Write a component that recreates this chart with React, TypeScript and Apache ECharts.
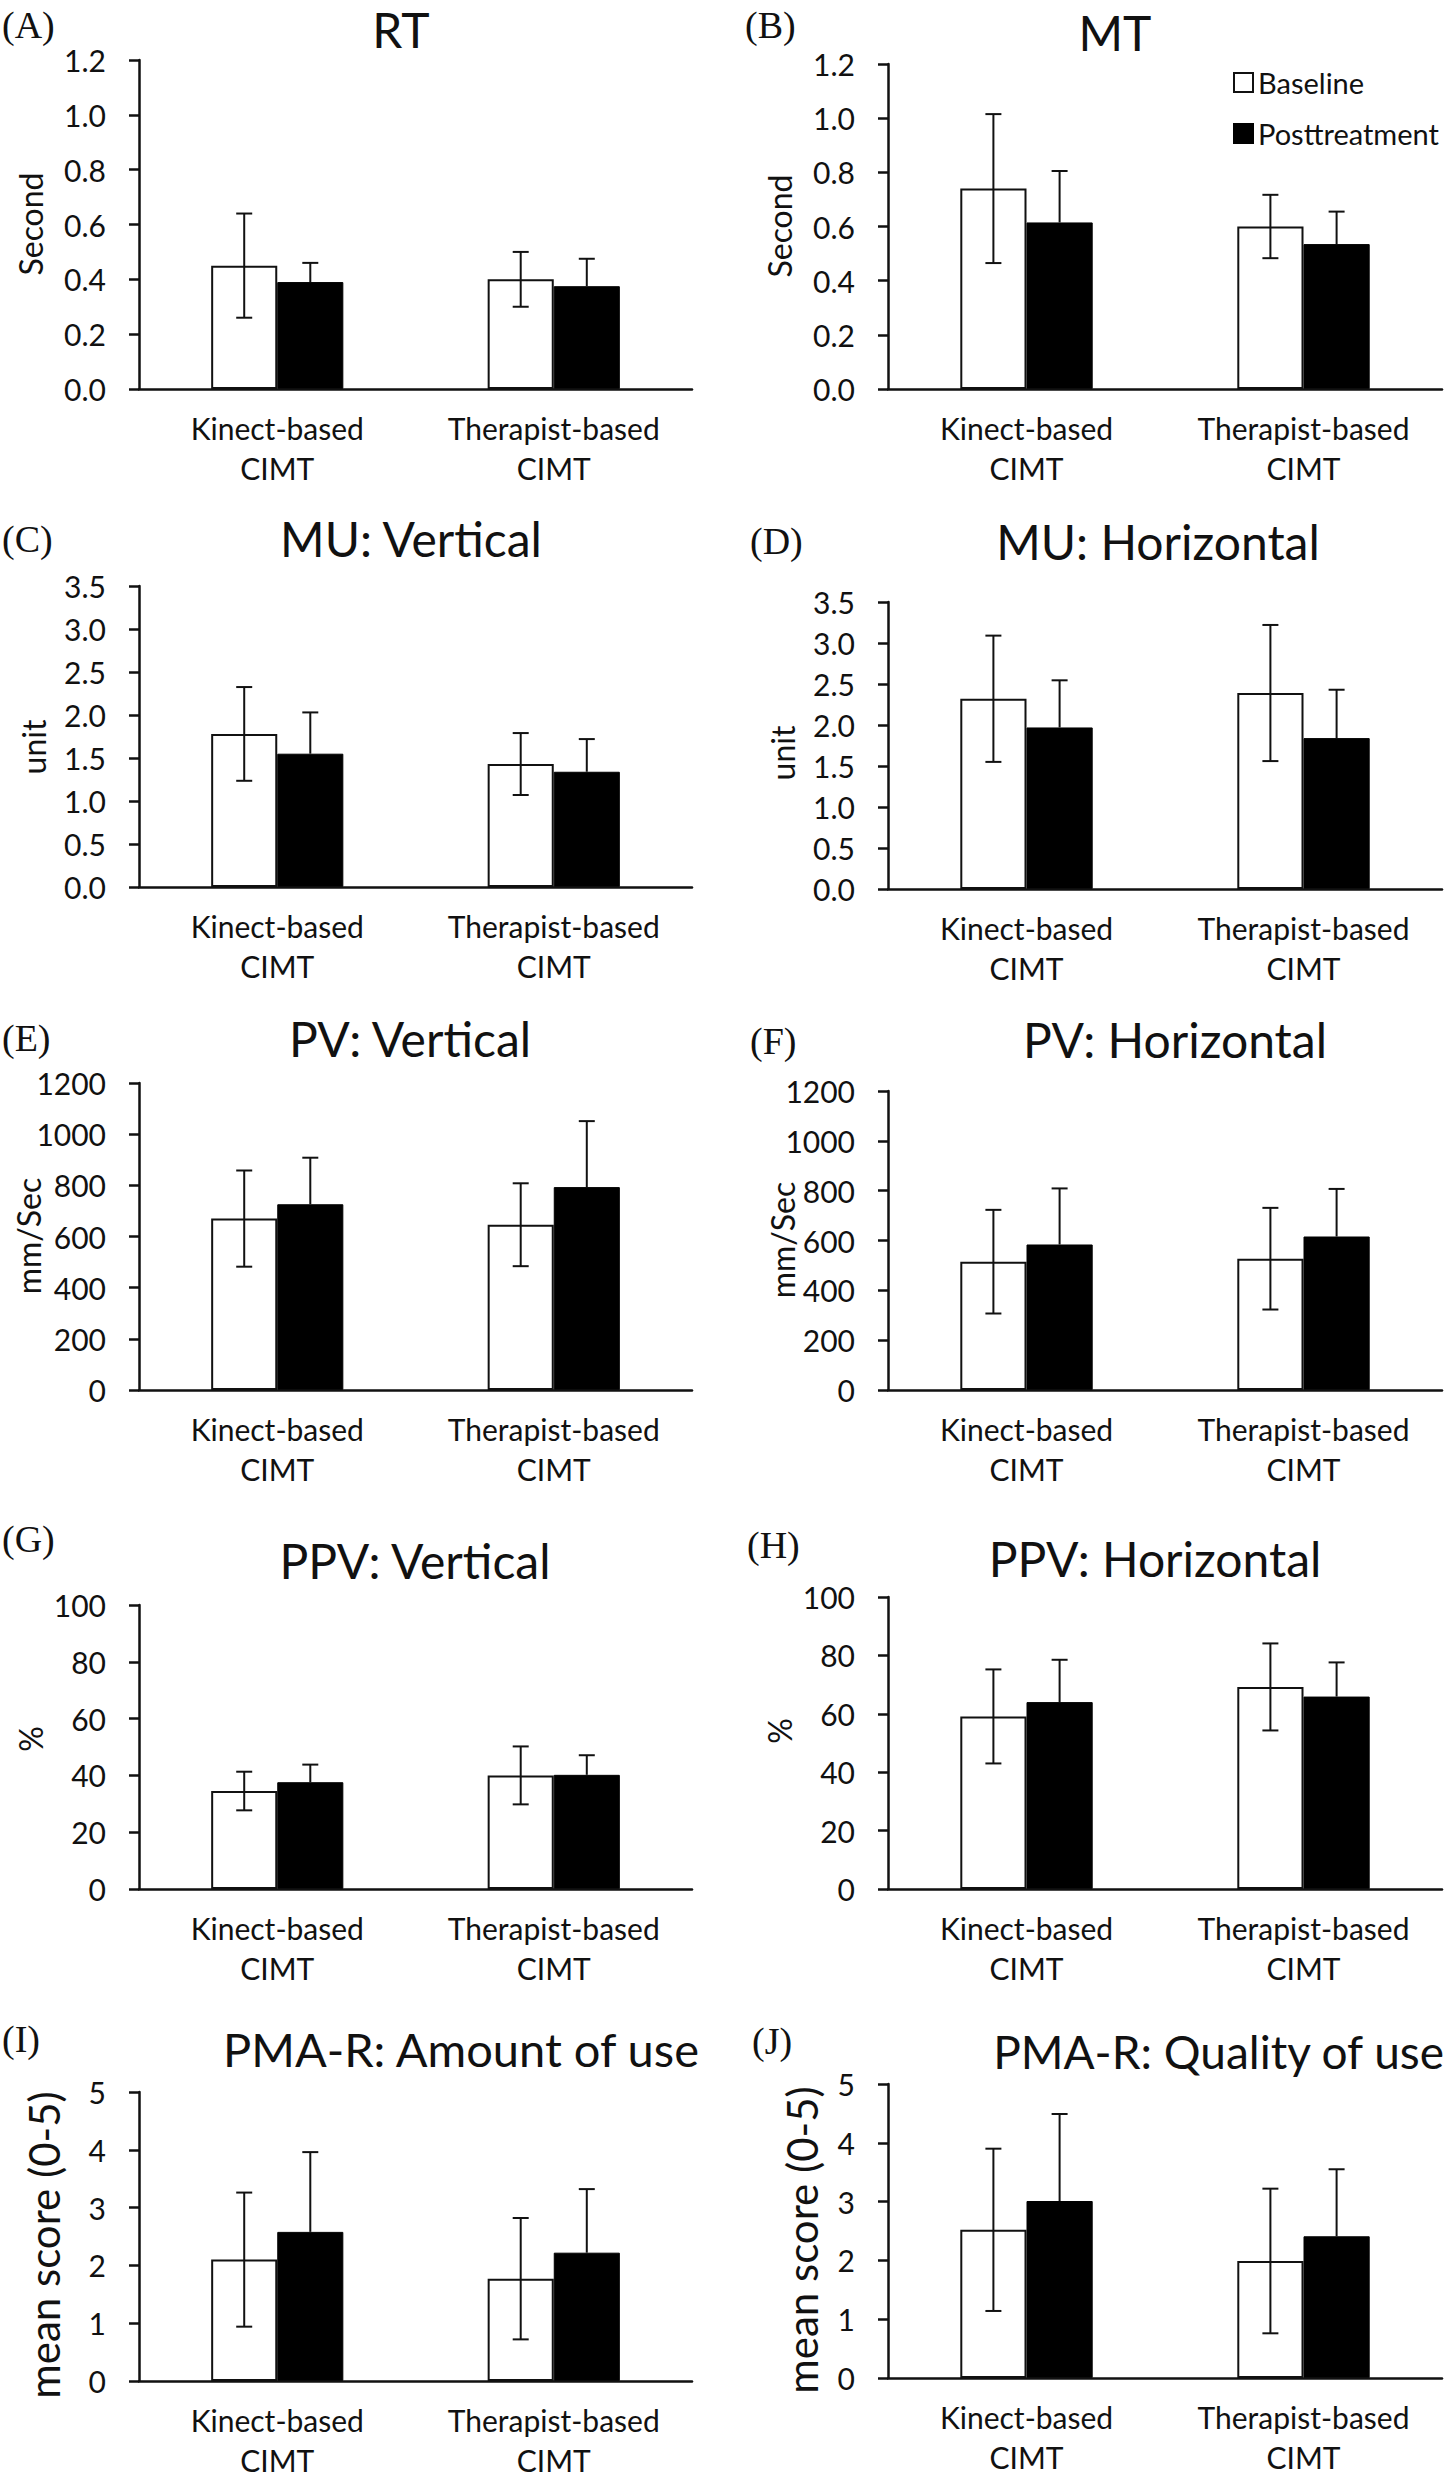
import React, { useEffect, useRef } from "react";
import * as echarts from "echarts";

// ---------- data ----------
const categories = ["Kinect-based\nCIMT", "Therapist-based\nCIMT"];
const seriesNames = ["Baseline", "Posttreatment"];

// (A) RT
const rtBaseline = [0.45, 0.4];
const rtBaselineSD = [0.19, 0.1];
const rtPost = [0.39, 0.375];
const rtPostSD = [0.07, 0.1];
// (B) MT
const mtBaseline = [0.74, 0.6];
const mtBaselineSD = [0.275, 0.117];
const mtPost = [0.615, 0.535];
const mtPostSD = [0.19, 0.12];
// (C) MU: Vertical
const muVBaseline = [1.78, 1.43];
const muVBaselineSD = [0.545, 0.36];
const muVPost = [1.55, 1.34];
const muVPostSD = [0.48, 0.38];
// (D) MU: Horizontal
const muHBaseline = [2.32, 2.39];
const muHBaselineSD = [0.77, 0.83];
const muHPost = [1.97, 1.84];
const muHPostSD = [0.575, 0.59];
// (E) PV: Vertical
const pvVBaseline = [670, 646];
const pvVBaselineSD = [188, 162];
const pvVPost = [726, 793];
const pvVPostSD = [182, 258];
// (F) PV: Horizontal
const pvHBaseline = [515, 527];
const pvHBaselineSD = [208, 204];
const pvHPost = [584, 616];
const pvHPostSD = [225, 191];
// (G) PPV: Vertical
const ppvVBaseline = [34.5, 40.0];
const ppvVBaselineSD = [6.8, 10.2];
const ppvVPost = [37.6, 40.2];
const ppvVPostSD = [6.2, 6.9];
// (H) PPV: Horizontal
const ppvHBaseline = [59.1, 69.2];
const ppvHBaselineSD = [16.1, 14.9];
const ppvHPost = [64.0, 65.9];
const ppvHPostSD = [14.5, 11.7];
// (I) PMA-R: Amount of use
const amountBaseline = [2.1, 1.77];
const amountBaselineSD = [1.16, 1.05];
const amountPost = [2.58, 2.22];
const amountPostSD = [1.38, 1.1];
// (J) PMA-R: Quality of use
const qualityBaseline = [2.52, 1.99];
const qualityBaselineSD = [1.38, 1.23];
const qualityPost = [3.01, 2.41];
const qualityPostSD = [1.48, 1.14];

const panelLetters = ["(A)", "(B)", "(C)", "(D)", "(E)", "(F)", "(G)", "(H)", "(I)", "(J)"];
const panelTitles = [
  "RT",
  "MT",
  "MU: Vertical",
  "MU: Horizontal",
  "PV: Vertical",
  "PV: Horizontal",
  "PPV: Vertical",
  "PPV: Horizontal",
  "PMA-R: Amount of use",
  "PMA-R: Quality of use",
];
const yNames = ["Second", "Second", "unit", "unit", "mm/Sec", "mm/Sec", "%", "%", "mean score (0-5)", "mean score (0-5)"];
const yMax = [1.2, 1.2, 3.5, 3.5, 1200, 1200, 100, 100, 5, 5];
const yInterval = [0.2, 0.2, 0.5, 0.5, 200, 200, 20, 20, 1, 1];
const yDecimals = [1, 1, 1, 1, 0, 0, 0, 0, 0, 0];

const baselineMeans = [rtBaseline, mtBaseline, muVBaseline, muHBaseline, pvVBaseline, pvHBaseline, ppvVBaseline, ppvHBaseline, amountBaseline, qualityBaseline];
const baselineSDs = [rtBaselineSD, mtBaselineSD, muVBaselineSD, muHBaselineSD, pvVBaselineSD, pvHBaselineSD, ppvVBaselineSD, ppvHBaselineSD, amountBaselineSD, qualityBaselineSD];
const postMeans = [rtPost, mtPost, muVPost, muHPost, pvVPost, pvHPost, ppvVPost, ppvHPost, amountPost, qualityPost];
const postSDs = [rtPostSD, mtPostSD, muVPostSD, muHPostSD, pvVPostSD, pvHPostSD, ppvVPostSD, ppvHPostSD, amountPostSD, qualityPostSD];

// ---------- layout / style ----------
const INK = "#111";
const FONT = "Lato";
const SERIF = "Liberation Serif";
const BAR_FRAC = 0.239;

const LEFT_X = 139;
const LEFT_W = 553;
const RIGHT_X = 888;
const RIGHT_W = 554;

// plot top (max tick) and bottom (zero) per panel
const plotBoxes = [
  { top: 60, bottom: 389 },
  { top: 64, bottom: 389 },
  { top: 586, bottom: 887 },
  { top: 602, bottom: 889 },
  { top: 1083, bottom: 1390 },
  { top: 1091, bottom: 1390 },
  { top: 1605, bottom: 1889 },
  { top: 1597, bottom: 1889 },
  { top: 2092, bottom: 2386 },
  { top: 2084, bottom: 2378 },
];
// [x, y, align, fontSize]
const titlePos: [number, number, string, number][] = [
  [401, 29, "center", 48],
  [1115, 32, "center", 48],
  [411, 538, "center", 48],
  [1158, 541, "center", 48],
  [410, 1038, "center", 48],
  [1175, 1039, "center", 48],
  [415, 1560, "center", 48],
  [1155, 1558, "center", 48],
  [461, 2049, "center", 47],
  [1444, 2051, "right", 46],
];
const letterPos = [
  [2, 25],
  [745, 25],
  [2, 539],
  [750, 541],
  [2, 1038],
  [750, 1041],
  [2, 1539],
  [747, 1545],
  [2, 2039],
  [752, 2041],
];
const yNamePos = [
  [30, 224],
  [779, 226],
  [33, 747],
  [782, 753],
  [28, 1236],
  [782, 1240],
  [30, 1739],
  [779, 1731],
  [44, 2245],
  [802, 2240],
];

function buildOption() {
  const grid: any[] = [];
  const xAxis: any[] = [];
  const yAxis: any[] = [];
  const series: any[] = [];
  const graphics: any[] = [];

  for (let i = 0; i < 10; i++) {
    const isLeft = i % 2 === 0;
    const box = plotBoxes[i];
    grid.push({
      left: isLeft ? LEFT_X : RIGHT_X,
      width: isLeft ? LEFT_W : RIGHT_W,
      top: box.top,
      height: box.bottom - box.top,
      containLabel: false,
    });
    xAxis.push({
      type: "category",
      gridIndex: i,
      data: categories,
      axisLine: { show: true, lineStyle: { color: INK, width: 2.5 } },
      axisTick: { show: false },
      axisLabel: {
        interval: 0,
        fontFamily: FONT,
        fontSize: 30,
        color: INK,
        lineHeight: 40,
        margin: 19,
      },
      z: 5,
    });
    const dec = yDecimals[i];
    yAxis.push({
      type: "value",
      gridIndex: i,
      min: 0,
      max: yMax[i],
      interval: yInterval[i],
      axisLine: { show: true, lineStyle: { color: INK, width: 2.5 } },
      axisTick: { show: true, length: 10, lineStyle: { color: INK, width: 2.5 } },
      splitLine: { show: false },
      axisLabel: {
        formatter: (v: number) => v.toFixed(dec),
        fontFamily: FONT,
        fontSize: 30,
        color: INK,
        margin: 33,
      },
    });

    series.push({
      type: "bar",
      name: seriesNames[0],
      xAxisIndex: i,
      yAxisIndex: i,
      data: baselineMeans[i],
      barWidth: BAR_FRAC * 100 + "%",
      barGap: "0%",
      itemStyle: { color: "#ffffff", borderColor: INK, borderWidth: 2 },
      z: 2,
    });
    series.push({
      type: "bar",
      name: seriesNames[1],
      xAxisIndex: i,
      yAxisIndex: i,
      data: postMeans[i],
      barWidth: BAR_FRAC * 100 + "%",
      barGap: "0%",
      itemStyle: { color: "#000000", borderColor: "#000000", borderWidth: 1 },
      z: 2,
    });

    const errData: number[][] = [];
    for (let c = 0; c < categories.length; c++) {
      errData.push([c, baselineMeans[i][c], baselineSDs[i][c], 0]);
      errData.push([c, postMeans[i][c], postSDs[i][c], 1]);
    }
    series.push({
      type: "custom",
      xAxisIndex: i,
      yAxisIndex: i,
      silent: true,
      z: 4,
      encode: { x: 0, y: 1 },
      data: errData,
      renderItem: (params: any, api: any) => {
        const cat = api.value(0);
        const m = api.value(1);
        const sd = api.value(2);
        const side = api.value(3);
        const band = api.size([1, 0])[0];
        const off = ((band * BAR_FRAC) / 2) * (side === 0 ? -1 : 1);
        const pTop = api.coord([cat, m + sd]);
        const pBot = api.coord([cat, m - sd]);
        const pMid = api.coord([cat, m]);
        const x = pTop[0] + off;
        const cap = 8;
        const ls = { stroke: INK, lineWidth: 2 };
        const children: any[] = [
          { type: "line", shape: { x1: x - cap, y1: pTop[1], x2: x + cap, y2: pTop[1] }, style: ls },
        ];
        if (side === 0) {
          children.push({ type: "line", shape: { x1: x, y1: pTop[1], x2: x, y2: pBot[1] }, style: ls });
          children.push({ type: "line", shape: { x1: x - cap, y1: pBot[1], x2: x + cap, y2: pBot[1] }, style: ls });
        } else {
          // lower half lies inside the black bar (black on black)
          children.push({ type: "line", shape: { x1: x, y1: pTop[1], x2: x, y2: pMid[1] }, style: ls });
        }
        return { type: "group", children };
      },
    });

    // title
    graphics.push({
      type: "text",
      x: titlePos[i][0],
      y: titlePos[i][1],
      z: 10,
      style: {
        text: panelTitles[i],
        fontFamily: FONT,
        fontSize: titlePos[i][3],
        fill: INK,
        align: titlePos[i][2],
        verticalAlign: "middle",
        textAlign: titlePos[i][2],
        textVerticalAlign: "middle",
      },
    });
    // panel letter
    graphics.push({
      type: "text",
      x: letterPos[i][0],
      y: letterPos[i][1],
      z: 10,
      style: {
        text: panelLetters[i],
        fontFamily: SERIF,
        fontSize: 38,
        fill: INK,
        align: "left",
        verticalAlign: "middle",
        textAlign: "left",
        textVerticalAlign: "middle",
      },
    });
    // y axis name
    const big = i >= 8;
    graphics.push({
      type: "text",
      x: yNamePos[i][0],
      y: yNamePos[i][1],
      rotation: Math.PI / 2,
      z: 10,
      style: {
        text: yNames[i],
        fontFamily: FONT,
        fontSize: big ? 42 : 32,
        fill: INK,
        align: "center",
        verticalAlign: "middle",
        textAlign: "center",
        textVerticalAlign: "middle",
      },
    });
  }

  return {
    animation: false,
    backgroundColor: "#ffffff",
    grid,
    xAxis,
    yAxis,
    series,
    legend: {
      data: seriesNames,
      orient: "vertical",
      left: 1228,
      top: 63,
      icon: "rect",
      itemWidth: 19,
      itemHeight: 19,
      itemGap: 22,
      selectedMode: false,
      textStyle: { fontFamily: FONT, fontSize: 29, color: INK },
    },
    graphic: { elements: graphics },
  };
}

export default function App() {
  const ref = useRef<HTMLDivElement>(null);
  useEffect(() => {
    if (!ref.current) return;
    const chart = echarts.init(ref.current, null, { renderer: "svg", width: 1445, height: 2480 });
    chart.setOption(buildOption() as any);
    return () => chart.dispose();
  }, []);
  return (
    <div
      ref={ref}
      style={{ position: "absolute", left: 0, top: 0, width: 1445, height: 2480, background: "#fff" }}
    />
  );
}
